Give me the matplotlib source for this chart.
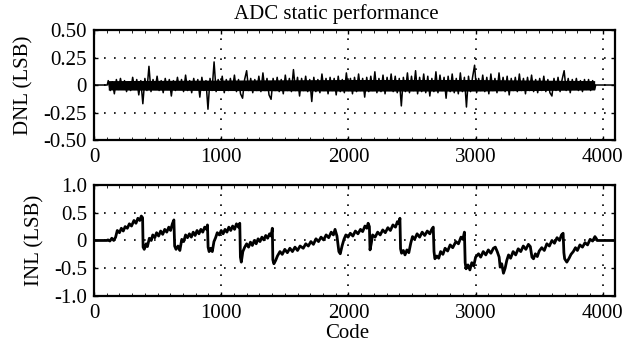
import matplotlib
matplotlib.use("Agg")
import matplotlib.pyplot as plt
import numpy as np
from matplotlib.ticker import MultipleLocator

plt.rcParams["font.family"] = ["Liberation Serif", "DejaVu Serif"]
plt.rcParams["font.size"] = 15

# --- DNL: one reading every 16 codes, from code 112 to 3936 ---
dnl_start, dnl_step = 112, 16
dnl = [
    0.04, -0.05, 0.03, -0.08, 0.05, -0.04, 0.06, -0.03, 0.04, -0.06,
    0.03, -0.05, 0.07, -0.04, 0.05, -0.09, 0.04, -0.17, 0.06, -0.05,
    0.17, -0.06, 0.05, -0.04, 0.08, -0.05, 0.04, -0.07, 0.06, -0.04,
    0.05, -0.10, 0.04, -0.05, 0.07, -0.04, 0.05, -0.06, 0.09, -0.05,
    0.04, -0.07, 0.06, -0.04, 0.05, -0.11, 0.07, -0.05, 0.04, -0.22,
    0.06, -0.05, 0.21, -0.06, 0.05, -0.04, 0.08, -0.07, 0.05, -0.05,
    0.06, -0.04, 0.09, -0.06, 0.05, -0.08, -0.12, 0.05, 0.13, -0.05,
    0.06, -0.07, 0.05, -0.05, 0.08, -0.06, 0.11, -0.05, 0.06, -0.09,
    -0.13, 0.06, -0.05, 0.07, -0.06, 0.05, -0.08, 0.09, -0.05, 0.06,
    -0.06, 0.14, -0.05, 0.07, -0.10, 0.06, -0.05, 0.08, -0.06, 0.05,
    -0.15, 0.07, -0.06, 0.05, -0.07, 0.10, -0.05, 0.06, -0.08, 0.07,
    -0.05, 0.06, -0.09, 0.08, -0.06, 0.05, -0.07, 0.11, -0.05, 0.06,
    -0.08, 0.07, -0.06, 0.10, -0.05, 0.06, -0.11, 0.07, -0.06, 0.08,
    -0.05, 0.12, -0.07, 0.06, -0.06, 0.09, -0.08, 0.07, -0.05, 0.10,
    -0.06, 0.08, -0.07, 0.06, -0.19, 0.07, -0.06, 0.11, -0.07, 0.08,
    -0.05, 0.13, -0.08, 0.07, -0.06, 0.10, -0.07, 0.08, -0.10, 0.06,
    -0.06, 0.12, -0.07, 0.09, -0.05, 0.07, -0.12, 0.08, -0.06, 0.10,
    -0.07, 0.06, -0.08, 0.11, -0.06, 0.07, -0.20, 0.08, -0.06, 0.07,
    0.18, -0.07, 0.06, -0.05, 0.09, -0.06, 0.07, -0.08, 0.10, -0.05,
    0.06, -0.07, 0.11, -0.05, 0.07, -0.06, 0.08, -0.09, 0.06, -0.05,
    0.07, -0.06, 0.10, -0.05, 0.06, -0.08, 0.07, -0.05, 0.09, -0.06,
    0.05, -0.07, 0.06, -0.05, 0.08, -0.06, 0.05, -0.07, -0.10, 0.06,
    -0.05, 0.07, -0.06, 0.05, 0.13, -0.05, 0.06, -0.07, 0.05, -0.04,
    0.06, -0.05, 0.04, -0.06, 0.05, -0.04, 0.05, -0.05, 0.04, -0.04,
]
dnl_codes = dnl_start + dnl_step * np.arange(len(dnl))

# solid core of the DNL noise band
band_codes = [112, 1000, 2000, 3000, 3936]
band_hi = [0.04, 0.045, 0.05, 0.05, 0.04]
band_lo = [-0.045, -0.05, -0.055, -0.055, -0.045]

# --- INL: points ---
inl_codes = [
    0, 100, 110, 125, 140, 155, 170, 183, 200, 215, 230, 245, 262, 278, 295, 314, 330, 345, 360, 372, 382,
    386, 395, 410, 420, 435, 450, 462, 478, 492, 508, 524, 540, 556, 572, 588, 602, 616, 628,
    634, 645, 660, 675, 690, 705, 720, 735, 750, 765, 780, 795, 810, 825, 840, 855, 870, 884, 892,
    897, 905, 918, 930, 943, 956, 969, 985, 1000, 1015, 1030, 1045, 1060, 1075, 1090, 1105, 1120, 1135, 1146,
    1151, 1158, 1170, 1185, 1200, 1215, 1230, 1245, 1260, 1275, 1290, 1305, 1320, 1335, 1350, 1365, 1380, 1392, 1402,
    1406, 1414, 1428, 1442, 1462, 1480, 1500, 1520, 1540, 1560, 1580, 1600, 1620, 1645, 1665, 1685, 1705, 1725,
    1745, 1765, 1785, 1805, 1825, 1845, 1865, 1882, 1895, 1910, 1925, 1936, 1950,
    1965, 1980, 1997, 2015, 2035, 2055, 2075, 2095, 2112, 2130, 2145, 2155, 2165, 2170, 2180, 2190, 2210, 2230,
    2250, 2270, 2290, 2310, 2330, 2350, 2370, 2385, 2398, 2405,
    2410, 2418, 2432, 2445, 2460, 2475, 2490, 2504, 2520, 2540, 2560, 2580, 2600, 2620, 2640, 2655, 2667,
    2673, 2680, 2695, 2710, 2725, 2743, 2760, 2780, 2800, 2820, 2845, 2865, 2885, 2900, 2912,
    2918, 2925, 2940, 2955, 2970, 2985, 3000, 3023, 3040, 3060, 3080, 3100, 3120, 3140, 3155, 3170,
    3185, 3193, 3205, 3219, 3232, 3245, 3259, 3275, 3295, 3315, 3335, 3355, 3375, 3395, 3415, 3430, 3443,
    3455, 3470, 3485, 3500, 3520, 3540, 3560, 3580, 3600, 3620, 3640, 3660, 3675, 3688,
    3694, 3700, 3717, 3735, 3750, 3768, 3785, 3800, 3820, 3840, 3860, 3880, 3900, 3920, 3938, 3950, 3955, 4096,
]
inl = [
    0, 0, 0.01, -0.01, 0.04, 0.0, 0.06, 0.18, 0.14, 0.22, 0.17, 0.25, 0.22, 0.30, 0.26, 0.36, 0.31, 0.40, 0.36, 0.44, 0.41,
    -0.12, -0.16, -0.06, -0.11, 0.04, 0.0, 0.10, 0.05, 0.14, 0.08, 0.17, 0.11, 0.20, 0.15, 0.24, 0.18, 0.30, 0.37,
    -0.10, -0.16, -0.10, -0.18, 0.02, -0.02, 0.10, 0.05, 0.12, 0.06, 0.15, 0.09, 0.18, 0.12, 0.20, 0.15, 0.24, 0.20, 0.28,
    -0.12, -0.20, -0.14, -0.20, -0.02, 0.05, 0.14, 0.10, 0.18, 0.12, 0.20, 0.15, 0.24, 0.18, 0.26, 0.20, 0.30, 0.24, 0.31,
    -0.30, -0.39, -0.20, -0.12, -0.06, -0.12, -0.03, -0.09, 0.0, -0.06, 0.03, -0.02, 0.06, 0.01, 0.09, 0.04, 0.12, 0.08, 0.22,
    -0.35, -0.42, -0.36, -0.28, -0.20, -0.25, -0.16, -0.22, -0.14, -0.20, -0.12, -0.18, -0.10, -0.14, -0.06, -0.10, -0.02, -0.07,
    0.03, -0.02, 0.06, 0.01, 0.10, 0.05, 0.15, 0.10, 0.20, 0.08, -0.20, -0.24, -0.10,
    0.02, 0.10, 0.06, 0.13, 0.08, 0.17, 0.12, 0.20, 0.16, 0.26, 0.22, 0.31, 0.25, -0.17, -0.05, 0.10, 0.06, 0.15,
    0.10, 0.19, 0.14, 0.23, 0.18, 0.28, 0.24, 0.34, 0.30, 0.40,
    -0.15, -0.23, -0.18, -0.26, -0.17, -0.22, -0.05, 0.07, 0.02, 0.12, 0.06, 0.15, 0.09, 0.17, 0.12, 0.20, 0.24,
    -0.20, -0.33, -0.28, -0.32, -0.20, -0.25, -0.14, -0.19, -0.08, -0.13, -0.02, -0.06, 0.06, 0.02, 0.15,
    -0.40, -0.51, -0.44, -0.53, -0.40, -0.46, -0.30, -0.24, -0.30, -0.20, -0.26, -0.17, -0.23, -0.14, -0.12, -0.20,
    -0.30, -0.48, -0.42, -0.59, -0.50, -0.36, -0.26, -0.32, -0.20, -0.26, -0.15, -0.20, -0.10, -0.16, -0.07, -0.11, -0.30,
    -0.33, -0.24, -0.29, -0.19, -0.13, -0.18, -0.06, -0.10, 0.0, -0.05, 0.05, 0.0, 0.10, 0.13,
    -0.22, -0.33, -0.39, -0.32, -0.25, -0.20, -0.13, -0.18, -0.08, -0.12, -0.04, -0.08, 0.02, -0.01, 0.07, 0.03, 0.0, 0.0,
]

dnl_ticks = [-0.5, -0.25, 0, 0.25, 0.5]
dnl_labels = ["-0.50", "-0.25", "0", "0.25", "0.50"]
inl_ticks = [-1.0, -0.5, 0, 0.5, 1.0]
inl_labels = ["-1.0", "-0.5", "0", "0.5", "1.0"]
x_ticks = [0, 1000, 2000, 3000, 4000]

fig = plt.figure(figsize=(6.33, 3.47), dpi=100)
ax1 = fig.add_axes([0.1485, 0.5965, 0.8231, 0.317])
ax2 = fig.add_axes([0.1485, 0.147, 0.8231, 0.32])

# DNL: solid core band + readings on top, flat ends outside the measured range
x_dnl = np.concatenate([[0, dnl_start - 8], dnl_codes, [dnl_codes[-1] + 8, 4096]])
y_dnl = np.concatenate([[0, 0], dnl, [0, 0]])
ax1.fill_between(band_codes, band_lo, band_hi, color="black", linewidth=0)
ax1.plot(x_dnl, y_dnl, color="black", linewidth=1.1)
ax2.plot(inl_codes, inl, color="black", linewidth=2.0)

for ax, ticks, labels, ylab in [(ax1, dnl_ticks, dnl_labels, "DNL (LSB)"),
                                (ax2, inl_ticks, inl_labels, "INL (LSB)")]:
    ax.set_xlim(0, 4096)
    ax.set_ylim(ticks[0], ticks[-1])
    ax.set_yticks(ticks)
    ax.set_yticklabels(labels)
    ax.set_xticks(x_ticks)
    ax.xaxis.set_minor_locator(MultipleLocator(100))
    ax.tick_params(direction="in", length=3, width=1, top=True, right=True)
    ax.tick_params(axis="y", pad=5)
    ax.tick_params(axis="x", pad=6)
    ax.tick_params(which="minor", direction="in", length=2, top=True)
    ax.grid(True, color="black", linestyle=(0, (1, 5)), linewidth=1.2)
    for s in ax.spines.values():
        s.set_linewidth(1.6)
    ax.set_ylabel(ylab, labelpad=7)

fig.text(336 / 633, 1 - 14 / 347, "ADC static performance", ha="center", va="center", fontsize=15)
ax2.set_xlabel("Code", labelpad=0)
ax2.xaxis.set_label_coords((347 - 94) / 521, -0.25)

plt.savefig("out.png", dpi=100)
plt.close()
